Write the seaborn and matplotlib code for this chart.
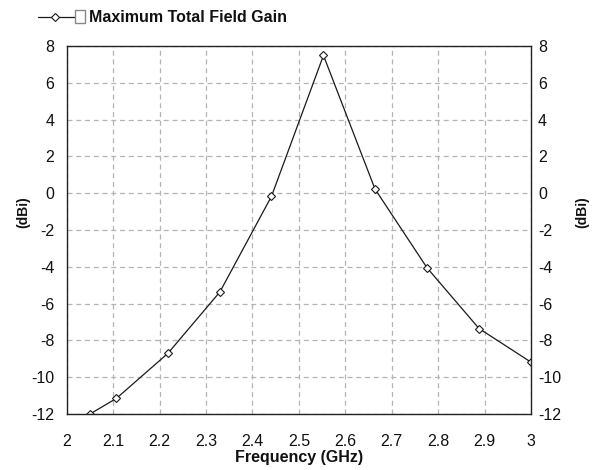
import matplotlib
matplotlib.use("Agg")
import matplotlib.pyplot as plt
from matplotlib.lines import Line2D
from matplotlib.patches import Rectangle
import seaborn as sns
import pandas as pd

# Antenna gain sweep
freq_ghz = [2.05, 2.107, 2.218, 2.33, 2.441, 2.553, 2.664, 2.776, 2.888, 3.0]
gain_dbi = [-12.0, -11.15, -8.7, -5.36, -0.17, 7.49, 0.23, -4.05, -7.35, -9.18]
x_ticks = [2, 2.1, 2.2, 2.3, 2.4, 2.5, 2.6, 2.7, 2.8, 2.9, 3]
y_ticks = [-12, -10, -8, -6, -4, -2, 0, 2, 4, 6, 8]
series_name = "Maximum Total Field Gain"
x_title = "Frequency (GHz)"
y_title = "(dBi)"

df = pd.DataFrame({x_title: freq_ghz, "gain": gain_dbi})

sns.set_theme(style="white")
plt.rcParams["font.family"] = ["Liberation Sans Narrow", "Liberation Sans", "DejaVu Sans"]

fig = plt.figure(figsize=(5.98, 4.70), dpi=100)
ax = fig.add_axes([0.1115, 0.119, 0.7765, 0.783])

sns.lineplot(data=df, x=x_title, y="gain", ax=ax,
             color="#1a1a1a", linewidth=0.9, marker="D", markersize=4.0,
             markerfacecolor="white", markeredgecolor="#1a1a1a",
             markeredgewidth=0.8, legend=False)

ax.set_xlim(2, 3)
ax.set_ylim(-12, 8)
ax.set_xticks(x_ticks)
ax.set_xticklabels([f"{t:g}" for t in x_ticks])
ax.set_yticks(y_ticks)
ax.set_yticklabels([f"{t:g}" for t in y_ticks])

# Dashed light-gray grid
ax.grid(True, color="#b4b4b4", linestyle=(0, (4, 3)), linewidth=0.9)
for s in ax.spines.values():
    s.set_color("#222222")
    s.set_linewidth(1.0)

ax.tick_params(axis="both", which="both", length=0, labelsize=11.5,
               colors="#111111")
ax.tick_params(axis="x", pad=14)
ax.tick_params(axis="y", pad=9)

ax.set_xlabel(x_title, fontsize=11.5, fontweight="bold",
              color="#111111", labelpad=1)
ax.set_ylabel("")

# Mirrored scale on the right
ax2 = ax.twinx()
ax2.set_ylim(ax.get_ylim())
ax2.set_yticks(y_ticks)
ax2.set_yticklabels([f"{t:g}" for t in y_ticks])
ax2.tick_params(axis="y", length=0, labelsize=11.5, colors="#111111", pad=5)
ax2.grid(False)
for s in ax2.spines.values():
    s.set_visible(False)

# Unit titles on both sides
fig.text(23 / 598, 1 - 212 / 470, y_title, rotation=90, fontsize=10,
         fontweight="bold", color="#111111", ha="center", va="center")
fig.text(582 / 598, 1 - 212 / 470, y_title, rotation=90, fontsize=10,
         fontweight="bold", color="#111111", ha="center", va="center")

# Legend entry at the top-left
fig.add_artist(Line2D([38 / 598, 74 / 598], [1 - 17 / 470, 1 - 17 / 470],
                      color="#1a1a1a", linewidth=0.9,
                      transform=fig.transFigure))
fig.add_artist(Line2D([55 / 598], [1 - 17 / 470], linestyle="none", marker="D",
                      markersize=4.0, markerfacecolor="white",
                      markeredgecolor="#1a1a1a", markeredgewidth=0.8,
                      transform=fig.transFigure))
fig.add_artist(Rectangle((75 / 598, 1 - 23 / 470), 10 / 598, 13 / 470,
                         facecolor="white", edgecolor="#888888", linewidth=1.0,
                         transform=fig.transFigure))
fig.text(89 / 598, 1 - 17 / 470, series_name, fontsize=11.5,
         fontweight="bold", color="#111111", va="center", ha="left")

fig.savefig("out.png", dpi=100, facecolor="white")
